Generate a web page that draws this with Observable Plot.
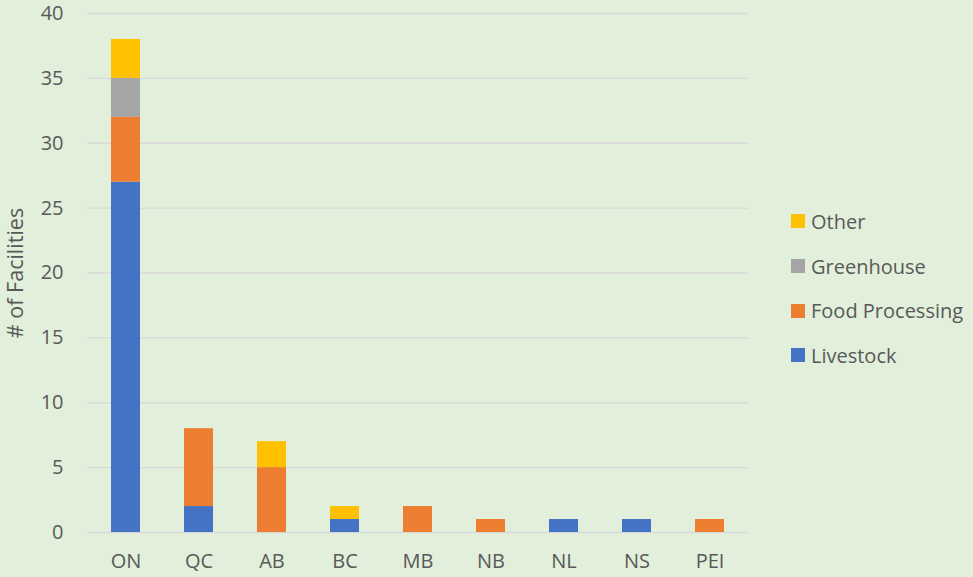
<!DOCTYPE html>
<html><head><meta charset="utf-8">
<script src="https://cdn.jsdelivr.net/npm/d3@7"></script>
<script src="https://cdn.jsdelivr.net/npm/@observablehq/plot@0.6"></script>
<style>
body{margin:0;background:#e2efda;}
#wrap{position:relative;width:973px;height:577px;background:#e2efda;font-family:"Open Sans",sans-serif;}
#chart svg{overflow:visible;}
#legend{position:absolute;left:791px;top:199px;color:#595959;font-size:20px;white-space:nowrap;}
#legend div{height:44.7px;display:flex;align-items:center;}
#legend span.sw{display:inline-block;width:14px;height:14px;margin-right:6px;}
</style></head>
<body><div id="wrap"><div id="chart"></div><div id="legend"></div></div>
<script>
const provinces = ["ON","QC","AB","BC","MB","NB","NL","NS","PEI"];
const livestock = [27,2,0,1,0,0,1,1,0];
const foodProcessing = [5,6,5,0,2,1,0,0,1];
const greenhouse = [3,0,0,0,0,0,0,0,0];
const other = [3,0,2,1,0,0,0,0,0];
const seriesNames = ["Livestock","Food Processing","Greenhouse","Other"];
const seriesColors = ["#4472c4","#ed7d31","#a5a5a5","#ffc000"];
const yTicks = [0,5,10,15,20,25,30,35,40];

const seriesVals = [livestock, foodProcessing, greenhouse, other];
const data = [];
seriesNames.forEach((s,i)=>provinces.forEach((p,j)=>data.push({province:p,type:s,value:seriesVals[i][j]})));

const chart = Plot.plot({
  width: 973, height: 577,
  marginLeft: 87, marginRight: 225, marginTop: 13, marginBottom: 45,
  style: {background: "transparent", fontFamily: "'Open Sans', sans-serif", fontSize: "20px", color: "#595959"},
  x: {domain: provinces, paddingInner: 0.6, paddingOuter: 0.27, label: null, tickSize: 0, tickPadding: 21},
  y: {domain: [0,40], ticks: yTicks, tickSize: 0, tickPadding: 24},
  color: {domain: seriesNames, range: seriesColors},
  marks: [
    Plot.gridY(yTicks, {stroke: "#d9d9d9", strokeOpacity: 1, strokeWidth: 1.3}),
    Plot.axisY(yTicks, {tickSize: 0, tickPadding: 24, label: null}),
    Plot.axisY({ticks: [], label: "# of Facilities", labelAnchor: "center", labelArrow: "none", labelOffset: 80, fontSize: 21.5}),
    Plot.barY(data, {x: "province", y: "value", fill: "type", order: seriesNames}),
  ]
});
document.getElementById("chart").appendChild(chart);

const lg = document.getElementById("legend");
[3,2,1,0].forEach(i=>{
  const d = document.createElement("div");
  d.innerHTML = `<span class="sw" style="background:${seriesColors[i]}"></span>${seriesNames[i]}`;
  lg.appendChild(d);
});
</script></body></html>
